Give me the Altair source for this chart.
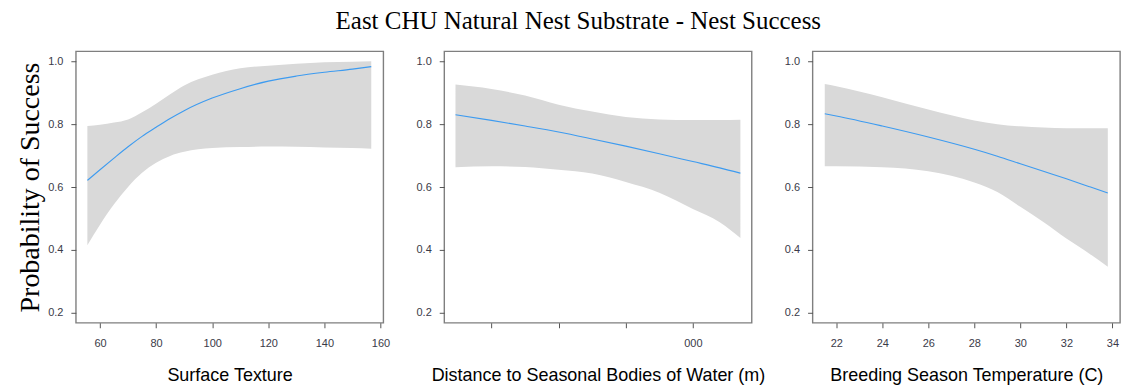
import altair as alt
import pandas as pd

# ---- Panel 1: Surface Texture ----
tex_x = [55.5, 60, 65, 70, 75, 80, 85, 90, 100, 110, 120, 130, 140, 150, 156.7]
tex_fit = [0.621, 0.655, 0.692, 0.728, 0.761, 0.790, 0.818, 0.843, 0.883, 0.913, 0.937, 0.953, 0.965, 0.975, 0.983]
tex_hi = [0.794, 0.798, 0.805, 0.815, 0.838, 0.865, 0.895, 0.923, 0.957, 0.978, 0.986, 0.992, 0.997, 0.999, 1.0]
tex_lo = [0.415, 0.480, 0.545, 0.600, 0.645, 0.677, 0.699, 0.712, 0.724, 0.727, 0.729, 0.728, 0.726, 0.724, 0.722]

# ---- Panel 2: Distance to Seasonal Bodies of Water ----
dist_x = [116, 250, 375, 500, 625, 750, 875, 1000, 1100, 1177]
dist_fit = [0.830, 0.812, 0.794, 0.775, 0.753, 0.730, 0.706, 0.681, 0.661, 0.644]
dist_hi = [0.926, 0.912, 0.891, 0.862, 0.840, 0.823, 0.815, 0.813, 0.813, 0.814]
dist_lo = [0.663, 0.666, 0.664, 0.655, 0.643, 0.616, 0.582, 0.530, 0.488, 0.438]

# ---- Panel 3: Breeding Season Temperature ----
temp_x = [21.5, 22, 24, 26, 28, 29, 30, 31, 32, 33, 33.8]
temp_fit = [0.833, 0.826, 0.794, 0.759, 0.720, 0.698, 0.674, 0.650, 0.626, 0.601, 0.581]
temp_hi = [0.928, 0.921, 0.886, 0.847, 0.812, 0.800, 0.793, 0.789, 0.787, 0.787, 0.787]
temp_lo = [0.666, 0.666, 0.663, 0.650, 0.614, 0.584, 0.537, 0.489, 0.436, 0.388, 0.346]

y_ticks = [0.2, 0.4, 0.6, 0.8, 1.0]
tex_ticks = [60, 80, 100, 120, 140, 160]
dist_ticks = [250, 500, 750, 1000]
temp_ticks = [22, 24, 26, 28, 30, 32, 34]

TICK_COLOR = "#3a3a48"
BAND = "#d9d9d9"
LINE = "#3d9bf0"

W, H = 308, 272


def panel(xs, fit, hi, lo, xdom, xticks, xtitle, show_ytitle, label_expr=None):
    df = pd.DataFrame({"x": xs, "fit": fit, "hi": hi, "lo": lo})
    xaxis_kw = dict(values=xticks, title=xtitle, grid=False, domain=False,
                    tickSize=5, tickColor="#555", labelPadding=10,
                    labelFont="Liberation Sans", labelFontSize=11, labelColor=TICK_COLOR,
                    titleFont="Liberation Sans", titleFontSize=18, titleFontWeight="normal",
                    titleColor="black", titlePadding=18, labelFlush=False)
    if label_expr:
        xaxis_kw["labelExpr"] = label_expr
    x = alt.X("x:Q", scale=alt.Scale(domain=xdom, nice=False, zero=False),
              axis=alt.Axis(**xaxis_kw))
    yaxis_kw = dict(values=y_ticks, format=".1f", grid=False, domain=False,
                    tickSize=5, tickColor="#555", labelPadding=8,
                    labelFont="Liberation Sans", labelFontSize=11, labelColor=TICK_COLOR,
                    labelFlush=False)
    if show_ytitle:
        yaxis_kw.update(title="Probability of Success", titleFont="Liberation Serif",
                        titleFontSize=28, titleFontWeight="normal", titleColor="black",
                        titlePadding=3)
    else:
        yaxis_kw.update(title=None)
    yscale = alt.Scale(domain=[0.168, 1.032], nice=False, zero=False)
    band = alt.Chart(df).mark_area(color=BAND, opacity=1, interpolate="monotone").encode(
        x=x,
        y=alt.Y("lo:Q", scale=yscale, axis=alt.Axis(**yaxis_kw)),
        y2="hi:Q",
    )
    line = alt.Chart(df).mark_line(color=LINE, strokeWidth=1.1, interpolate="monotone").encode(
        x="x:Q", y="fit:Q"
    )
    return alt.layer(band, line).properties(width=W, height=H)


p1 = panel(tex_x, tex_fit, tex_hi, tex_lo, [51.4, 161.0], tex_ticks, "Surface Texture", True)
p2 = panel(dist_x, dist_fit, dist_hi, dist_lo, [74, 1219], dist_ticks,
           "Distance to Seasonal Bodies of Water (m)", False,
           label_expr="datum.value == 1000 ? '000' : ''")
p3 = panel(temp_x, temp_fit, temp_hi, temp_lo, [20.97, 34.33], temp_ticks,
           "Breeding Season Temperature (C)", False)

chart = alt.hconcat(p1, p2, p3, spacing=61, bounds="flush").properties(
    title=alt.TitleParams("East CHU Natural Nest Substrate - Nest Success",
                          font="Liberation Serif", fontSize=25, fontWeight="normal",
                          color="black", anchor="middle", dx=10, offset=17),
    padding={"left": 16, "top": 8, "right": 5, "bottom": 5},
).configure(background="white").configure_view(stroke="#7f7f7f", strokeWidth=1.4)

chart.save("out.html", embed_options={"renderer": "svg", "actions": False})
